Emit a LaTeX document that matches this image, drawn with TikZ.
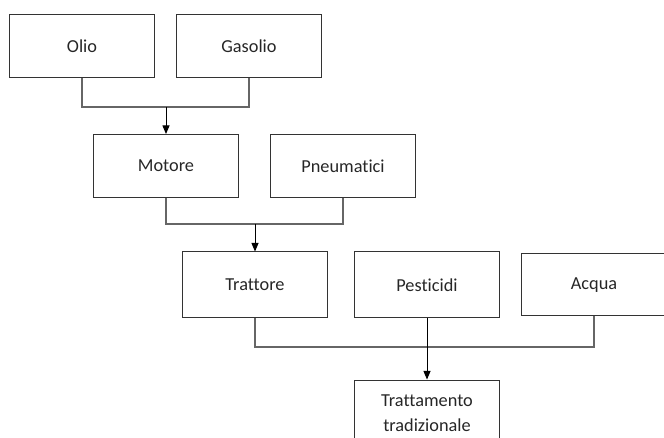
\documentclass[tikz,border=0pt]{standalone}
\usepackage{fontspec}
\setmainfont{Carlito}[Ligatures={NoCommon}]
\usepackage{tikz}
\usetikzlibrary{arrows, positioning}

\begin{document}
\begin{tikzpicture}[x=1pt, y=-1pt,
    box/.style={draw=black!80, line width=1pt, minimum width=145pt, minimum height=63pt,
        align=center, font=\fontsize{18.3}{25}\selectfont, text=black!85},
    link/.style={draw=black!60, line width=1.3pt},
    feed/.style={draw=black, line width=1pt, -triangle 45}]
\clip (0,0) rectangle (664,438);
% Top row
\node[box] (olio) at (82,46.5) {Olio};
\node[box] (gasolio) at (249,46.5) {Gasolio};
% Second row
\node[box] (motore) at (166,166) {Motore};
\node[box] (pneumatici) at (343,166) {Pneumatici};
% Third row
\node[box, minimum height=66pt] (trattore) at (255,285) {Trattore};
\node[box, minimum height=66pt] (pesticidi) at (427,285) {Pesticidi};
\node[box, minimum height=62pt] (acqua) at (594,285) {Acqua};
% Result
\node[box, minimum height=66pt] (trattamento) at (427,413) {Trattamento\\tradizionale};

% Junctions
\coordinate (j1) at (166,107);
\coordinate (j2) at (255,224);
\coordinate (j3) at (427,347);

\draw[link] (olio.south) |- (j1) -| (gasolio.south);
\draw[feed] (j1) -- (j1 |- motore.north);
\draw[link] (motore.south) |- (j2) -| (pneumatici.south);
\draw[feed] (j2) -- (j2 |- trattore.north);
\draw[link] (trattore.south) |- (j3) -| (acqua.south);
\draw[feed] (pesticidi.south) -- (trattamento.north);
\end{tikzpicture}
\end{document}
